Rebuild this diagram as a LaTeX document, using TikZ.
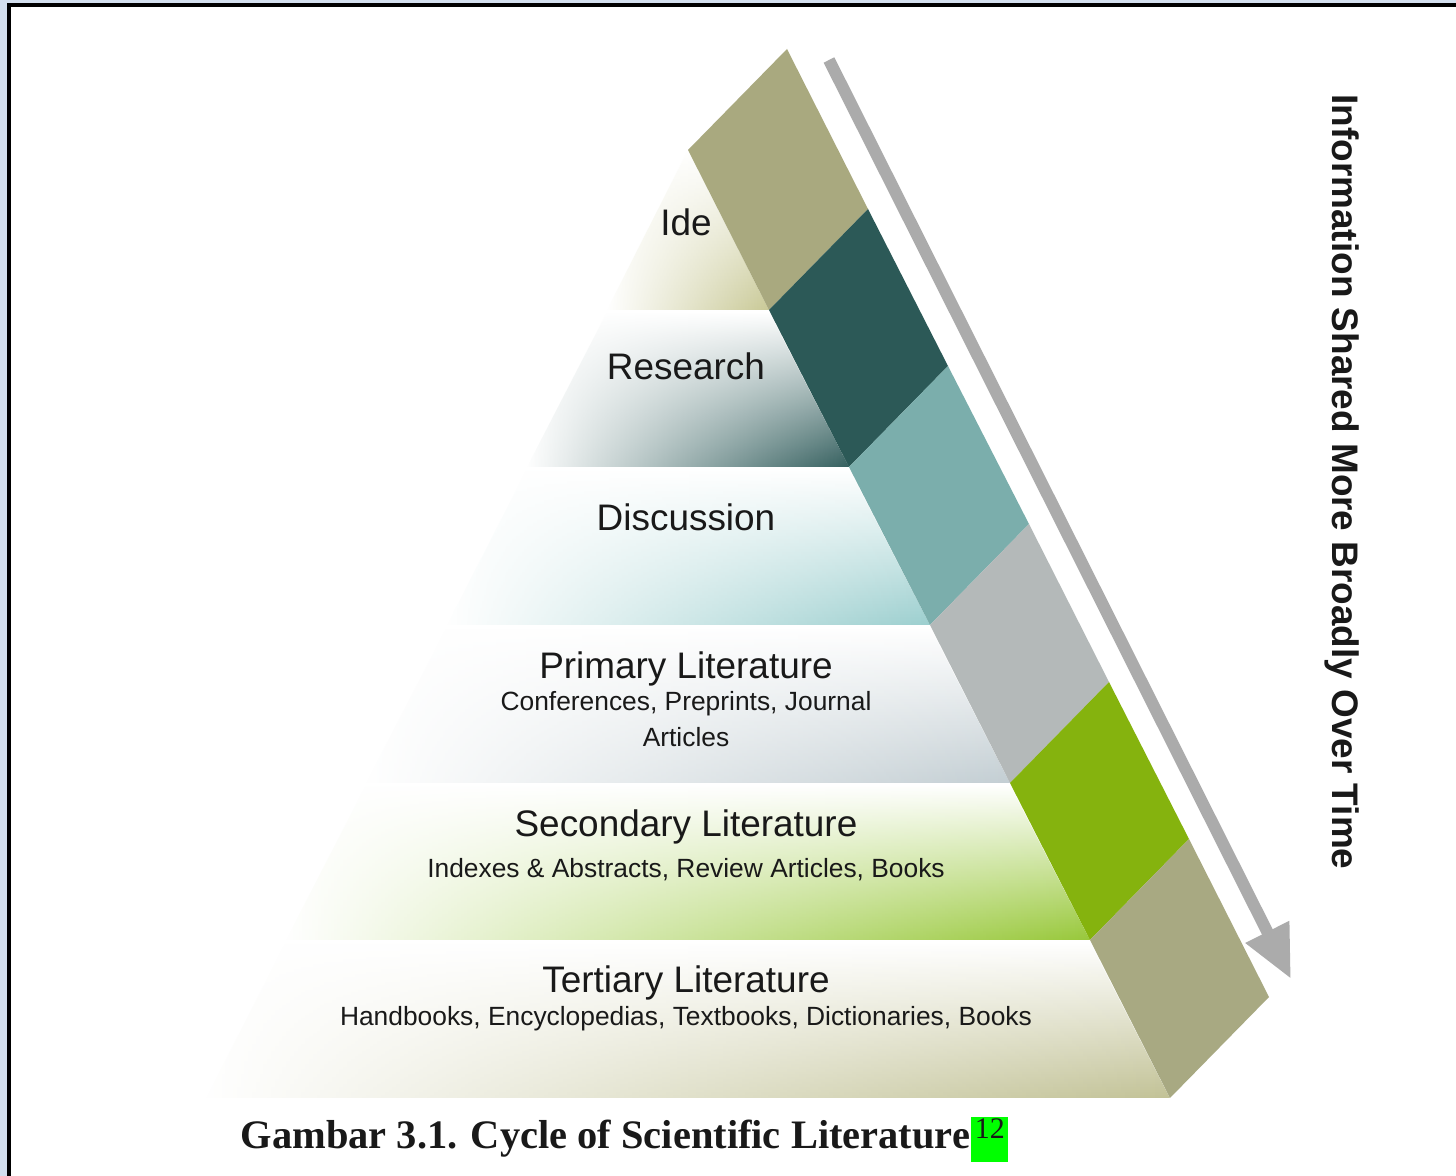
\documentclass[tikz,border=0pt]{standalone}
\usepackage{fontspec}
\setmainfont{Liberation Sans}
\newfontfamily\capfont{Liberation Serif}
\usetikzlibrary{arrows.meta,fadings}

\definecolor{ideband}{HTML}{A9A97F}
\definecolor{resband}{HTML}{2C5957}
\definecolor{disband}{HTML}{7BAEAC}
\definecolor{priband}{HTML}{B4B9B9}
\definecolor{secband}{HTML}{85B30E}
\definecolor{terband}{HTML}{A8A982}
\definecolor{idetier}{HTML}{C9C996}
\definecolor{restier}{HTML}{35605F}
\definecolor{distier}{HTML}{9CCFCF}
\definecolor{pritier}{HTML}{C3CED3}
\definecolor{sectier}{HTML}{98C83A}
\definecolor{tertier}{HTML}{C2C296}
\definecolor{arrgray}{HTML}{ABABAB}
\definecolor{hlgreen}{HTML}{00FF00}
\definecolor{edgeblue}{HTML}{D3DFEE}

\tikzfading[name=tierfade, left color=transparent!100, middle color=transparent!65, right color=transparent!0]

\begin{document}
\begin{tikzpicture}[x=0.01cm,y=-0.01cm]
      \tikzstyle{every node}+=[inner sep=0pt, text=black!90]
      \tikzstyle{head}=[font=\fontsize{10.5}{12}\selectfont]
      \tikzstyle{sub}=[font=\fontsize{7.5}{9}\selectfont]
      \tikzstyle{tier}=[path fading=tierfade, top color=white]
      \useasboundingbox (0,0) rectangle (1456,1176);
      \fill[edgeblue] (0,0) rectangle (1456,1176);
      \fill[white] (9,5) rectangle (1456,1176);
      \draw[line width=0.9pt] (9,1176) -- (9,5) -- (1456,5);
      % pyramid faces
      \shade[tier, bottom color=idetier] (688,150) -- (769,310) -- (607,310) -- cycle;
      \shade[tier, bottom color=restier] (607,312) -- (769,312) -- (849,467) -- (527,467) -- cycle;
      \shade[tier, bottom color=distier] (527,469) -- (849,469) -- (930,625) -- (447,625) -- cycle;
      \shade[tier, bottom color=pritier] (447,627) -- (930,627) -- (1010,783) -- (366,783) -- cycle;
      \shade[tier, bottom color=sectier] (366,785) -- (1010,785) -- (1090,940) -- (286,940) -- cycle;
      \shade[tier, bottom color=tertier] (286,942) -- (1090,942) -- (1170,1098) -- (206,1098) -- cycle;
      % side band
      \fill[ideband] (688,150) -- (769,310) -- ++(99,-101) -- (787,49) -- cycle;
      \fill[resband] (769,310) -- (849,467) -- ++(99,-101) -- (868,209) -- cycle;
      \fill[disband] (849,467) -- (930,625) -- ++(99,-101) -- (948,366) -- cycle;
      \fill[priband] (930,625) -- (1010,783) -- ++(99,-101) -- (1029,524) -- cycle;
      \fill[secband] (1010,783) -- (1090,940) -- ++(99,-101) -- (1109,682) -- cycle;
      \fill[terband] (1090,940) -- (1170,1098) -- ++(99,-101) -- (1189,839) -- cycle;
      % arrow
      \coordinate (arrtop) at (829,60);
      \coordinate (arrtip) at (1291,979);
      \draw[arrgray, line width=3.4pt, -{Triangle[width=13pt,length=15pt]}] (arrtop) -- (arrtip);
      \node[rotate=-90, font=\fontsize{10.5}{12}\selectfont\bfseries] (broad) at (1342,482) {Information Shared More Broadly Over Time};
      % labels
      \node[head] (ide) at (686,222) {Ide};
      \node[head] (research) at (686,366) {Research};
      \node[head] (discussion) at (686,517) {Discussion};
      \node[head] (primary) at (686,669) {Primary Literature};
      \node[sub] (primsub) at (686,704) {Conferences, Preprints, Journal};
      \node[sub] (primsubb) at (686,737) {Articles};
      \node[head] (secondary) at (686,827) {Secondary Literature};
      \node[sub] (secsub) at (686,870) {Indexes \& Abstracts, Review Articles, Books};
      \node[head] (tertiary) at (686,983) {Tertiary Literature};
      \node[sub] (tersub) at (686,1019) {Handbooks, Encyclopedias, Textbooks, Dictionaries, Books};
      % caption
      \node[anchor=base west, font=\capfont\bfseries\fontsize{11.5}{13}\selectfont] (caption) at (240,1149) {Gambar 3.1. Cycle of Scientific Literature};
      \node[fill=hlgreen, minimum width=0.37cm, minimum height=0.45cm, anchor=south west] (refbox) at ([yshift=-0.14cm]caption.base east) {};
      \node[anchor=north, font=\capfont\fontsize{8.5}{9}\selectfont] (refno) at ([yshift=-0.01cm]refbox.north) {12};
\end{tikzpicture}
\end{document}
